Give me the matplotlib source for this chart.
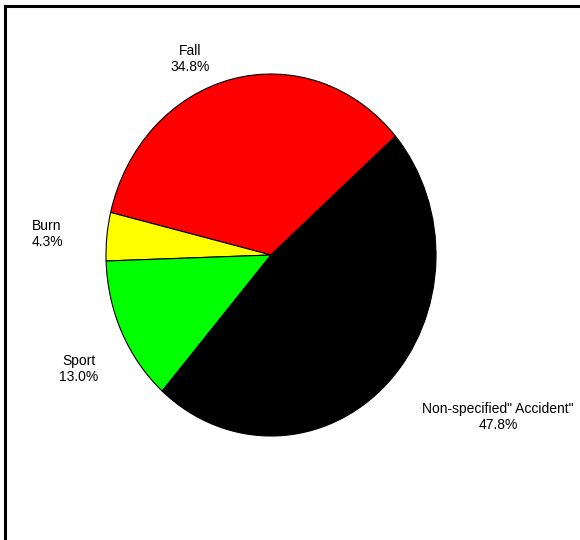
import matplotlib
matplotlib.use('Agg')
import matplotlib.pyplot as plt
from matplotlib.lines import Line2D

categories = ['Fall', 'Burn', 'Sport', 'Non-specified" Accident"']
shares = [34.8, 4.3, 13.0, 47.8]
colors = ['#FF0000', '#FFFF00', '#00FF00', '#000000']
# label text centres in pixels (from top-left of figure)
label_px = [(190, 59), (47, 234), (79, 369), (498, 417)]

W, H = 580, 540
fig = plt.figure(figsize=(W / 100, H / 100), dpi=100)
fig.patch.set_facecolor('white')

cx, cy, rx, ry = 271, 255, 165, 181
ax = fig.add_axes([(cx - rx) / W, 1 - (cy + ry) / H, 2 * rx / W, 2 * ry / H])
ax.pie(shares, colors=colors, startangle=41, counterclock=True,
       wedgeprops=dict(edgecolor='black', linewidth=0.8), radius=1)
ax.set_aspect('auto')
ax.set_xlim(-1, 1)
ax.set_ylim(-1, 1)
ax.axis('off')

for cat, v, (px, py) in zip(categories, shares, label_px):
    fig.text(px / W, 1 - py / H, f"{cat}\n{v:.1f}%", ha='center', va='center',
             fontsize=10, family='Liberation Sans', linespacing=1.15, color='black')

# frame (top and left edges visible)
fig.add_artist(Line2D([5 / W, 5 / W], [0, 1 - 6 / H], transform=fig.transFigure,
                      color='black', lw=2.2))
fig.add_artist(Line2D([5 / W, 1], [1 - 6 / H, 1 - 6 / H], transform=fig.transFigure,
                      color='black', lw=2.2))

fig.savefig('out.png', dpi=100)
